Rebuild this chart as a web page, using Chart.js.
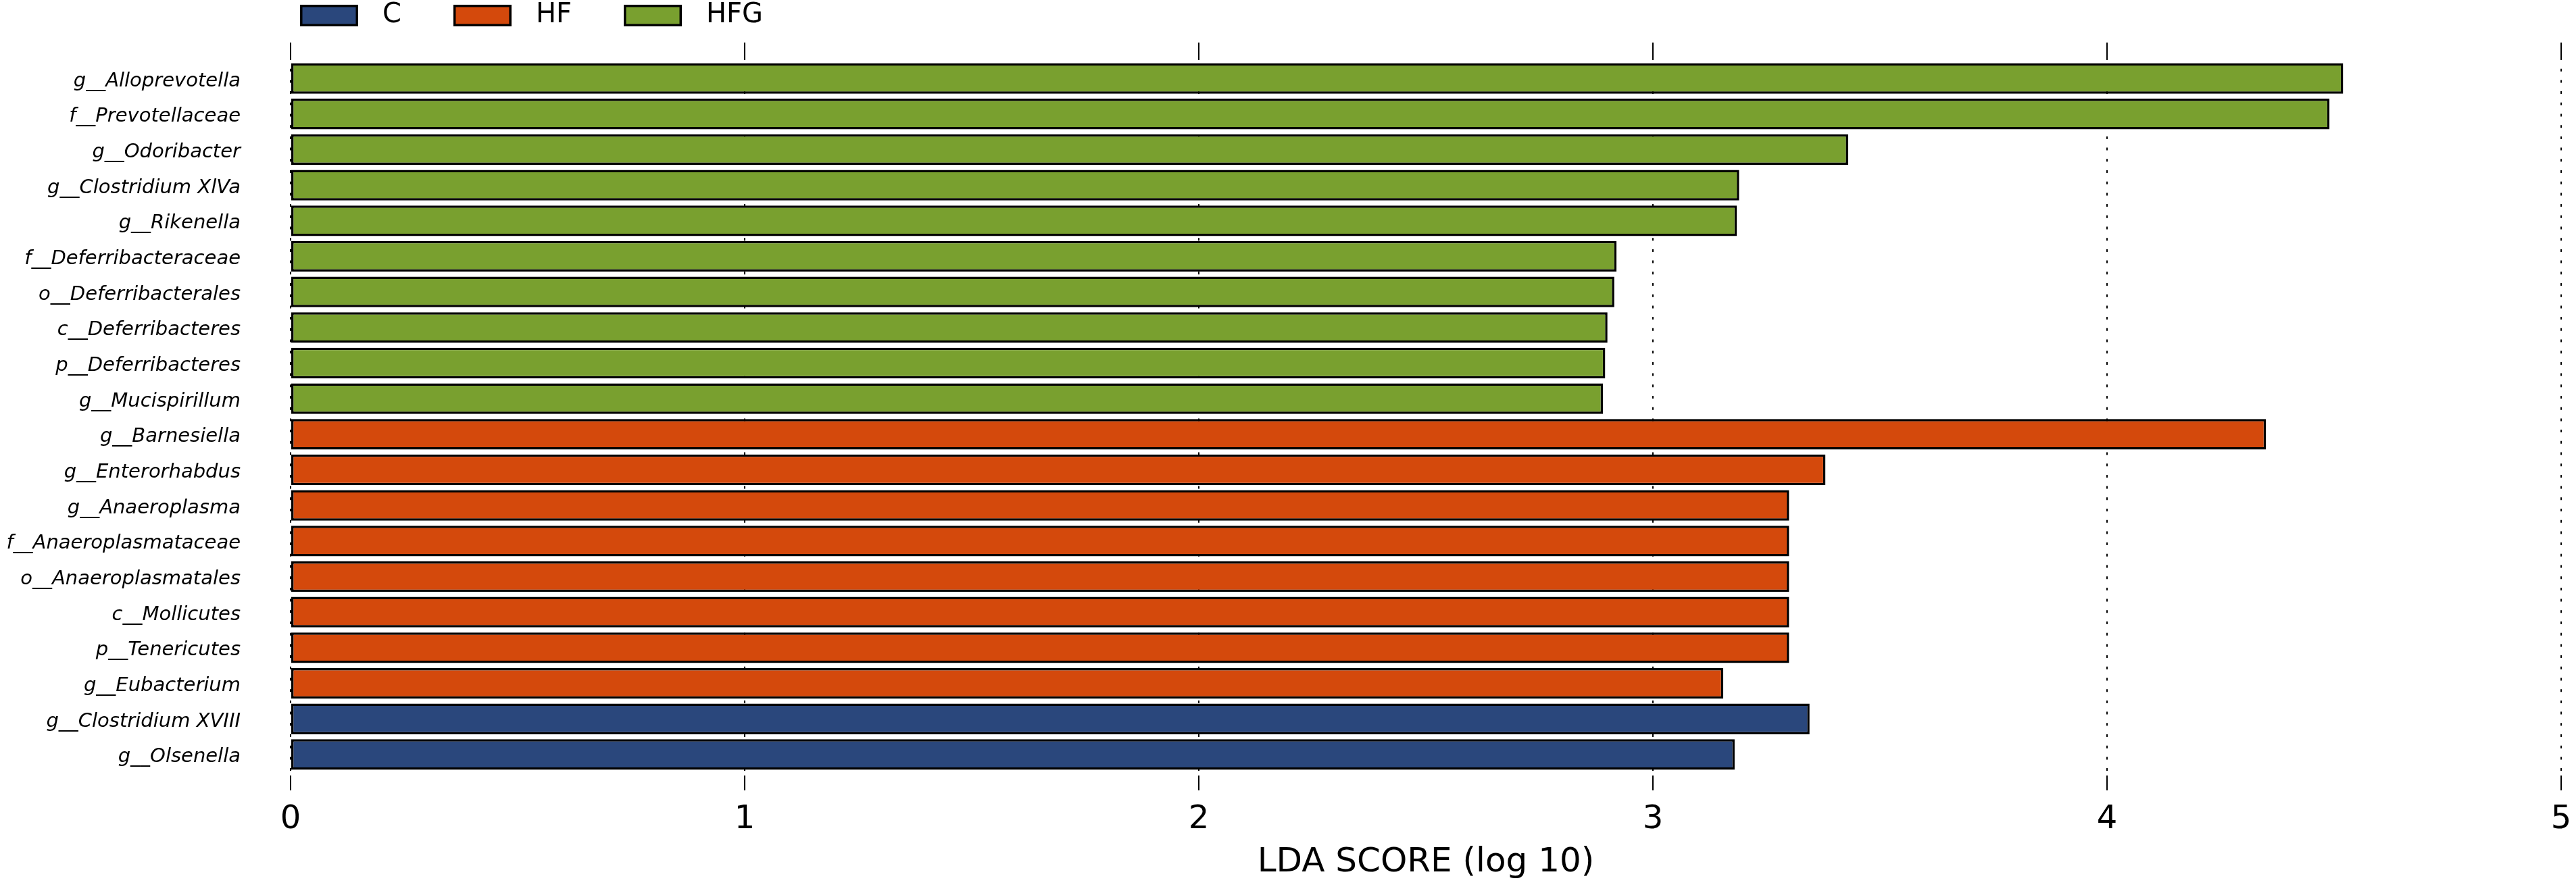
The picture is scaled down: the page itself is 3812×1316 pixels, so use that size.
<!DOCTYPE html>
<html>
<head>
<meta charset="utf-8">
<script src="https://cdn.jsdelivr.net/npm/chart.js@4.4.1/dist/chart.umd.min.js"></script>
<style>
html,body{margin:0;padding:0;background:#ffffff;}
canvas{display:block;}
</style>
</head>
<body>
<canvas id="c" width="3812" height="1316" style="width:3812px;height:1316px"></canvas>
<script>
// ---- data (top to bottom) ----
const categories = [
  'g__Alloprevotella', 'f__Prevotellaceae', 'g__Odoribacter', 'g__Clostridium XlVa',
  'g__Rikenella', 'f__Deferribacteraceae', 'o__Deferribacterales', 'c__Deferribacteres',
  'p__Deferribacteres', 'g__Mucispirillum', 'g__Barnesiella', 'g__Enterorhabdus',
  'g__Anaeroplasma', 'f__Anaeroplasmataceae', 'o__Anaeroplasmatales', 'c__Mollicutes',
  'p__Tenericutes', 'g__Eubacterium', 'g__Clostridium XVIII', 'g__Olsenella'
];
const scores = [
  4.52, 4.49, 3.43, 3.19,
  3.185, 2.92, 2.915, 2.90,
  2.895, 2.89, 4.35, 3.38,
  3.30, 3.30, 3.30, 3.30,
  3.30, 3.155, 3.345, 3.18
];
const groups = [
  'HFG', 'HFG', 'HFG', 'HFG',
  'HFG', 'HFG', 'HFG', 'HFG',
  'HFG', 'HFG', 'HF', 'HF',
  'HF', 'HF', 'HF', 'HF',
  'HF', 'HF', 'C', 'C'
];
const groupNames = ['C', 'HF', 'HFG'];
const groupColors = ['#2A477C', '#D4490C', '#79A02F'];
const xAxisTitle = 'LDA SCORE (log 10)';

const FONT = 'DejaVu Sans';

const datasets = groupNames.map((g, gi) => ({
  label: g,
  data: categories
    .map((name, i) => ({ x: scores[i], y: i, grp: groups[i] }))
    .filter(p => p.grp === g),
  backgroundColor: groupColors[gi],
  borderColor: '#000000',
  borderWidth: 3.5,
  borderSkipped: false,
  grouped: false,
  barPercentage: 0.86,
  categoryPercentage: 1.0
}));

// Legend row drawn above the plot (horizontal, left aligned at the plot start)
const topLegend = {
  id: 'topLegend',
  afterDraw(chart) {
    const ctx = chart.ctx;
    const startX = 444, boxTop = 7, boxW = 86, boxH = 32;
    const textGap = 36, itemGap = 77;
    ctx.save();
    ctx.font = '40px "' + FONT + '"';
    ctx.textBaseline = 'middle';
    ctx.textAlign = 'left';
    let x = startX;
    chart.data.datasets.forEach(ds => {
      ctx.fillStyle = ds.backgroundColor;
      ctx.fillRect(x, boxTop, boxW, boxH);
      ctx.lineWidth = ds.borderWidth;
      ctx.strokeStyle = ds.borderColor;
      ctx.strokeRect(x + ds.borderWidth / 2, boxTop + ds.borderWidth / 2, boxW - ds.borderWidth, boxH - ds.borderWidth);
      ctx.fillStyle = '#000000';
      const tx = x + boxW + textGap;
      ctx.fillText(ds.label, tx, boxTop + boxH / 2);
      x = tx + ctx.measureText(ds.label).width + itemGap;
    });
    ctx.restore();
  }
};

new Chart(document.getElementById('c'), {
  type: 'bar',
  data: { datasets },
  plugins: [topLegend],
  options: {
    indexAxis: 'y',
    responsive: false,
    animation: false,
    devicePixelRatio: 1,
    layout: { padding: { top: 63, right: 22, bottom: 0, left: 0 } },
    plugins: {
      legend: { display: false },
      tooltip: { enabled: false }
    },
    scales: {
      x: {
        type: 'linear',
        position: 'bottom',
        min: 0,
        max: 5,
        z: 1,
        offset: false,
        ticks: { stepSize: 1, color: '#000000', padding: 15, font: { family: FONT, size: 48 } },
        grid: { color: '#000000', lineWidth: 2, tickLength: 22, tickWidth: 2, tickColor: '#000000', tickBorderDash: [] },
        border: { display: false, dash: [4, 12.7] },
        title: {
          display: true,
          text: xAxisTitle,
          color: '#000000',
          font: { family: FONT, size: 50 },
          padding: { top: 0, bottom: 9 }
        },
        afterFit: (s) => { s.height = 168; s.paddingLeft = 0; s.paddingRight = 0; }
      },
      x2: {
        type: 'linear',
        position: 'top',
        min: 0,
        max: 5,
        offset: false,
        ticks: { display: false, stepSize: 1 },
        grid: { drawOnChartArea: false, color: '#000000', lineWidth: 2, tickLength: 22, tickWidth: 2 },
        border: { display: false },
        afterFit: (s) => { s.height = 22; s.paddingLeft = 0; s.paddingRight = 0; }
      },
      y: {
        type: 'linear',
        reverse: true,
        offset: false,
        min: -0.59,
        max: 19.59,
        ticks: {
          stepSize: 1,
          autoSkip: false,
          padding: 0,
          labelOffset: 4,
          color: '#000000',
          font: { family: FONT, style: 'italic', size: 29 },
          callback: (v) => (Number.isInteger(v) && categories[v] !== undefined ? categories[v] : '')
        },
        afterBuildTicks: (axis) => {
          axis.ticks = categories.map((_, i) => ({ value: i }));
        },
        grid: { display: false, offset: false, drawTicks: true, tickLength: 74 },
        border: { display: false },
        afterFit: (s) => { s.width = 430; s.paddingTop = 0; s.paddingBottom = 0; }
      }
    }
  }
});
</script>
</body>
</html>
